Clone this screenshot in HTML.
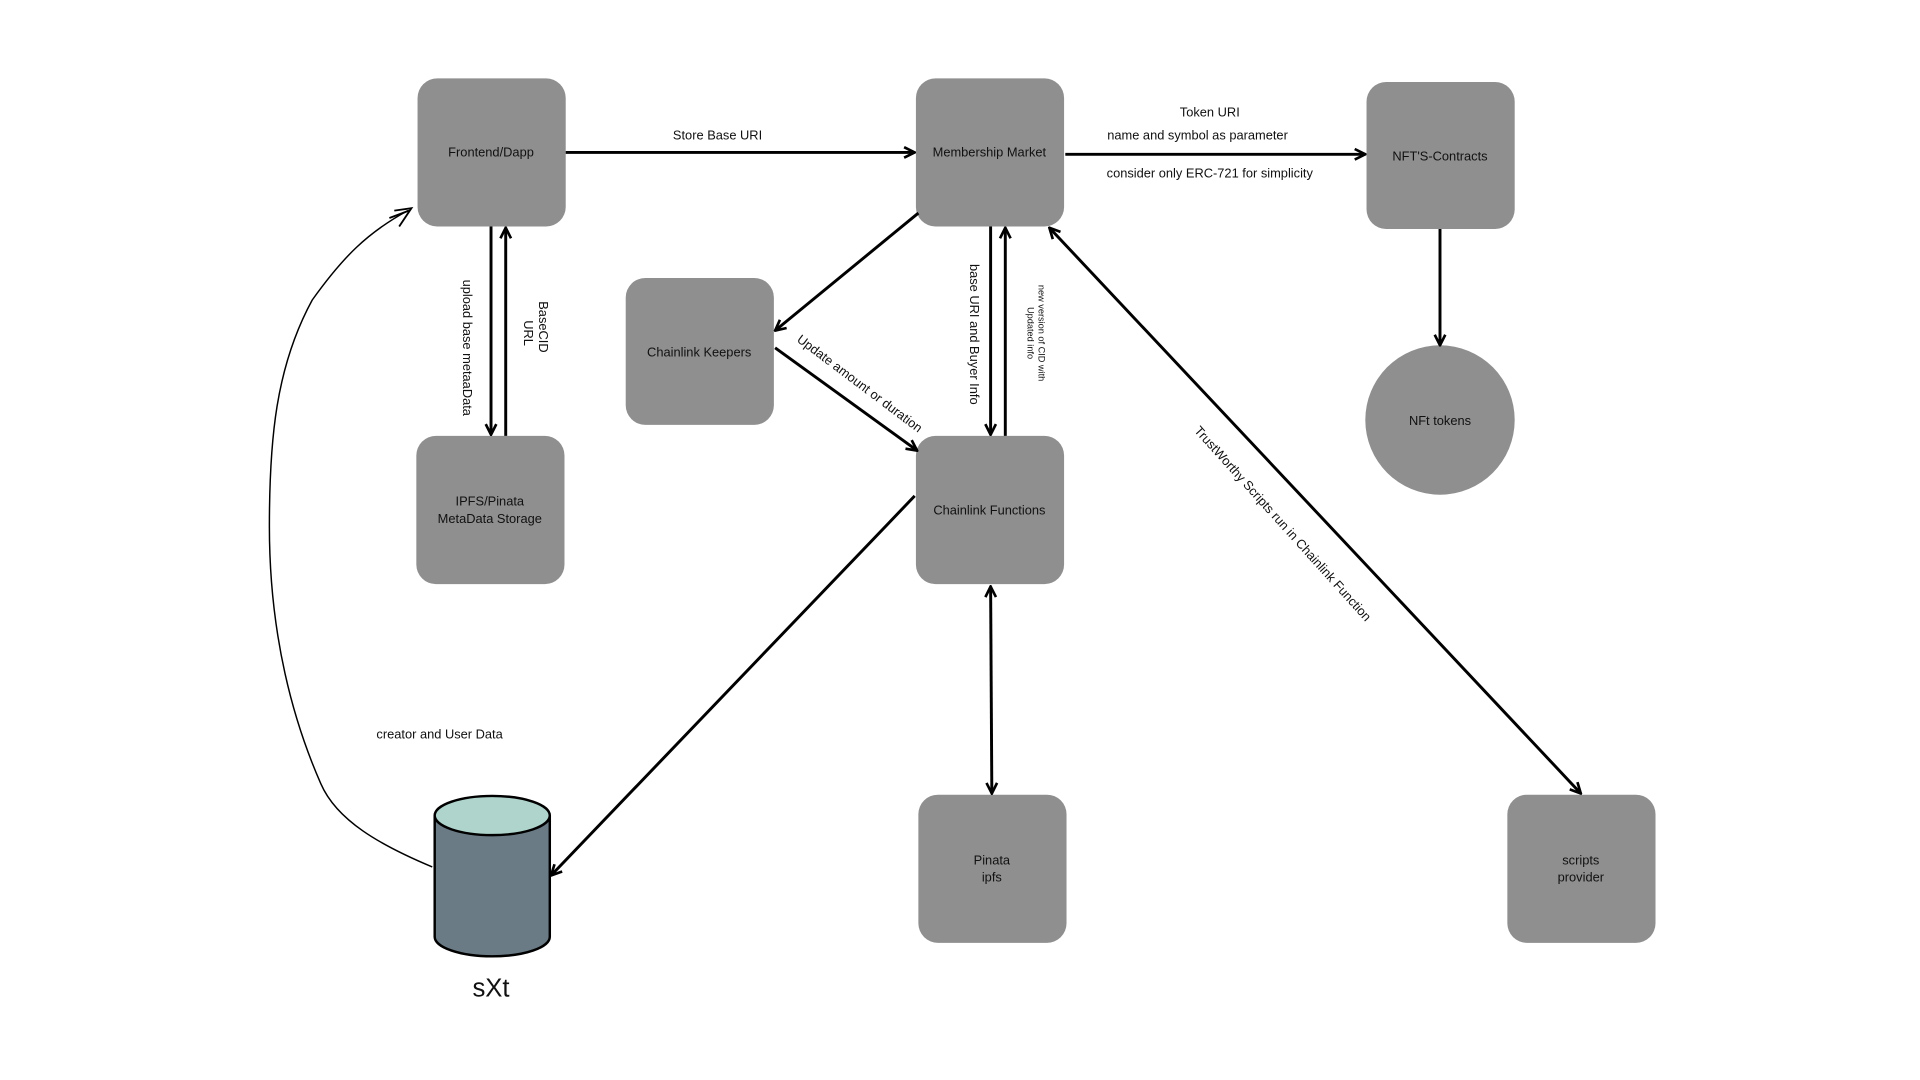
<!DOCTYPE html>
<html><head><meta charset="utf-8"><style>html,body{margin:0;padding:0;background:#fff;}svg{display:block;}text{font-family:"Liberation Sans",sans-serif;fill:#111;}</style></head>
<body>
<svg width="1920" height="1080" viewBox="0 0 1568 882" preserveAspectRatio="none" xmlns="http://www.w3.org/2000/svg">
<defs>
<marker id="a" viewBox="0 0 10 10" refX="9" refY="5" markerWidth="4.5" markerHeight="4.5" orient="auto-start-reverse"><path d="M1,1 L9,5 L1,9" fill="none" stroke="#000" stroke-width="2"/></marker>
</defs>
<rect width="1568" height="882" fill="#fff"/>
<g fill="#8f8f8f">
<rect x="341" y="64" width="121" height="121" rx="16"/>
<rect x="748" y="64" width="121" height="121" rx="16"/>
<rect x="1116" y="67" width="121" height="120" rx="16"/>
<ellipse cx="1176" cy="343" rx="61" ry="61"/>
<rect x="511" y="227" width="121" height="120" rx="16"/>
<rect x="340" y="356" width="121" height="121" rx="16"/>
<rect x="748" y="356" width="121" height="121" rx="16"/>
<rect x="750" y="649" width="121" height="121" rx="16"/>
<rect x="1231" y="649" width="121" height="121" rx="16"/>
</g>
<g font-size="10.5" text-anchor="middle">
<text x="401" y="128">Frontend/Dapp</text>
<text x="808" y="128">Membership Market</text>
<text x="1176" y="131">NFT'S-Contracts</text>
<text x="1176" y="347">NFt tokens</text>
<text x="571" y="291">Chainlink Keepers</text>
<text x="400" y="413">IPFS/Pinata</text>
<text x="400" y="427">MetaData Storage</text>
<text x="808" y="420">Chainlink Functions</text>
<text x="810" y="706">Pinata</text>
<text x="810" y="720">ipfs</text>
<text x="1291" y="706">scripts</text>
<text x="1291" y="720">provider</text>
<text x="586" y="114">Store Base URI</text>
<text x="988" y="95">Token URI</text>
<text x="978" y="114">name and symbol as parameter</text>
<text x="988" y="145">consider only ERC-721 for simplicity</text>
<text x="359" y="603">creator and User Data</text>
</g>
<g stroke="#000" stroke-width="2.4" fill="none" marker-end="url(#a)">
<line x1="462" y1="124.5" x2="747" y2="124.5"/>
<line x1="870" y1="126" x2="1115" y2="126"/>
<line x1="1176" y1="187" x2="1176" y2="282"/>
<line x1="401" y1="185" x2="401" y2="355"/>
<line x1="413" y1="356" x2="413" y2="186"/>
<line x1="750" y1="174" x2="633" y2="270"/>
<line x1="633" y1="284" x2="749" y2="368"/>
<line x1="809" y1="185" x2="809" y2="355"/>
<line x1="821" y1="356" x2="821" y2="186"/>
<line x1="857" y1="186" x2="1291" y2="648" marker-start="url(#a)"/>
<line x1="809" y1="479" x2="810" y2="648" marker-start="url(#a)"/>
<line x1="747" y1="405" x2="450" y2="715"/>
</g>
<path d="M353,708 C310,690 275,670 262,640 C240,590 220,520 220,430 C220,360 225,300 255,245 C280,210 300,190 333,172" fill="none" stroke="#000" stroke-width="1.2"/>
<path d="M322,172 L336,170 L326,185 M318,178 L334,172" fill="none" stroke="#000" stroke-width="1.5"/>
<path d="M355,666 L355,765 A47,16 0 0 0 449,765 L449,666" fill="#6a7b85" stroke="#000" stroke-width="2"/>
<ellipse cx="402" cy="666" rx="47" ry="16" fill="#aed4cc" stroke="#000" stroke-width="2"/>
<text x="401" y="814" font-size="21" text-anchor="middle">sXt</text>
<g font-size="10.5" text-anchor="middle">
<text transform="translate(378,284) rotate(90)">upload base metaaData</text>
<text transform="translate(440,267) rotate(90)">BaseCID</text>
<text transform="translate(428,272) rotate(90)">URL</text>
<text transform="translate(792,273) rotate(90)">base URI and Buyer Info</text>
<text transform="translate(700,316) rotate(37)">Update amount or duration</text>
<text transform="translate(1045,430) rotate(48)">TrustWorthy Scripts run in Chainlink Function</text>
</g>
<g font-size="7.5" text-anchor="middle">
<text transform="translate(848,272) rotate(90)">new version of CID with</text>
<text transform="translate(839,272) rotate(90)">Updated info</text>
</g>
</svg>
</body></html>
